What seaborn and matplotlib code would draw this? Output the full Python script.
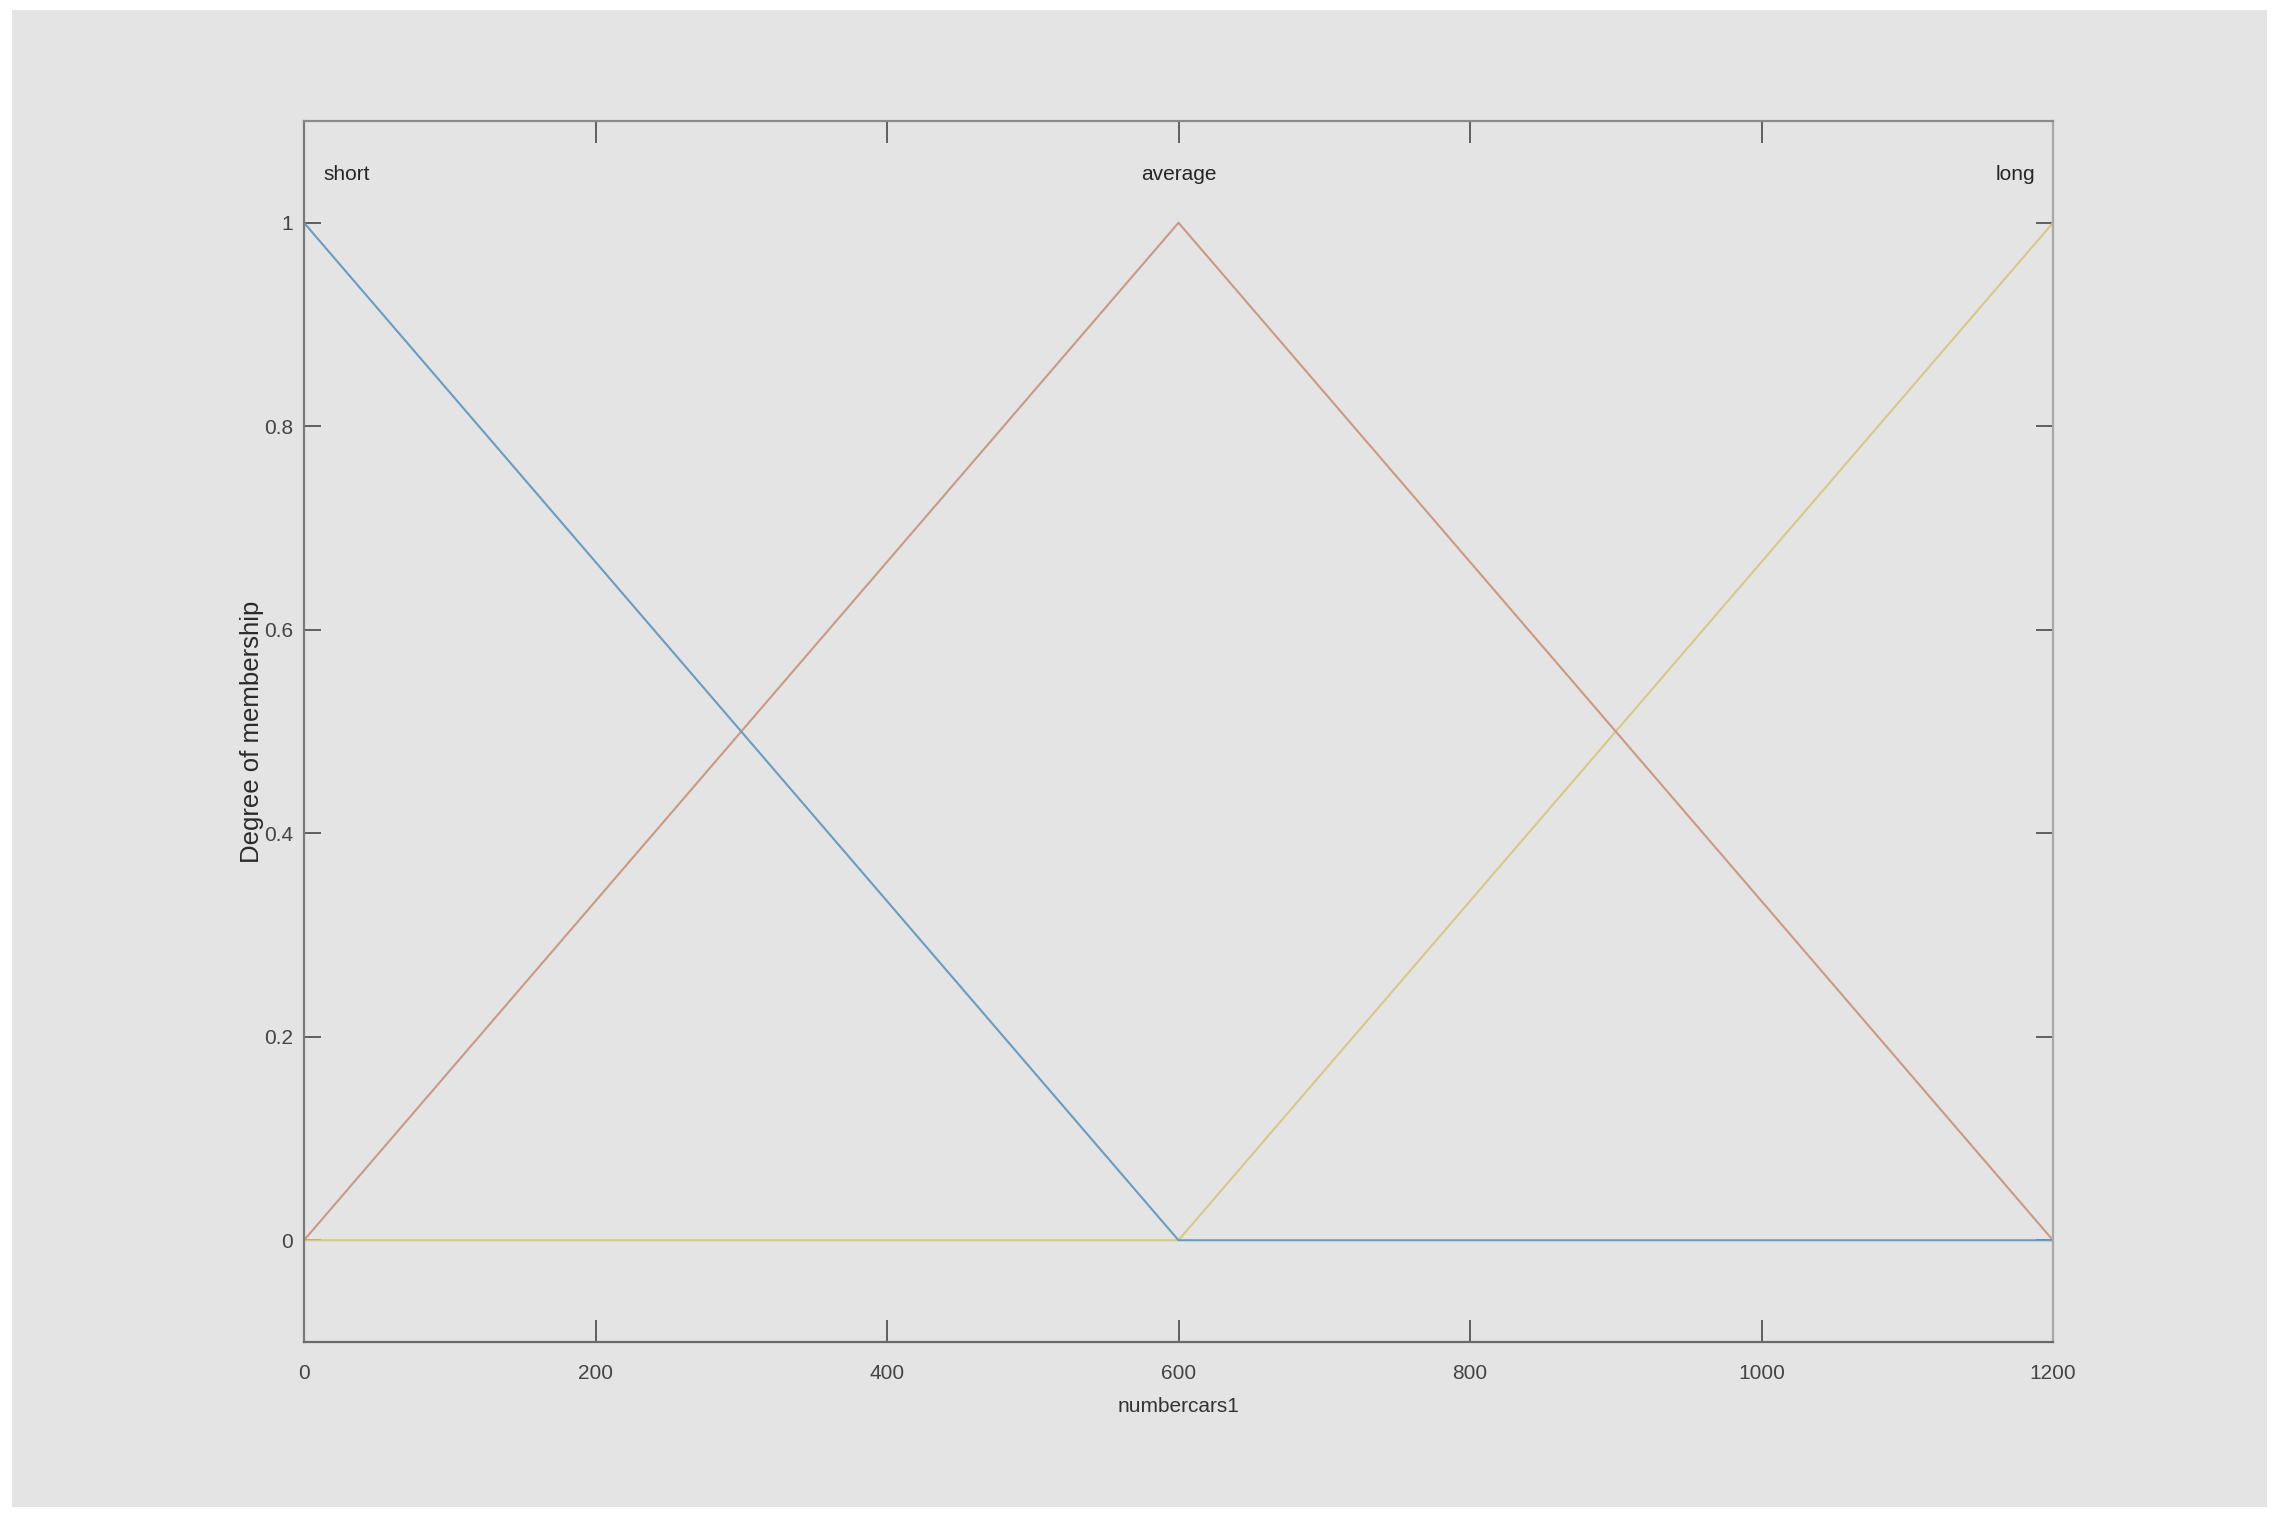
import pandas as pd
import matplotlib.pyplot as plt
import seaborn as sns
from matplotlib.patches import Rectangle

# membership functions sampled at their break points
x_points = [0, 600, 1200]
short_mf = [1, 0, 0]
average_mf = [0, 1, 0]
long_mf = [0, 0, 1]
mf_names = ["short", "average", "long"]
x_ticks = [0, 200, 400, 600, 800, 1000, 1200]
y_ticks = [0, 0.2, 0.4, 0.6, 0.8, 1]
y_tick_labels = ["0", "0.2", "0.4", "0.6", "0.8", "1"]

colors = {"short": "#6a9cbd", "average": "#c89a84", "long": "#d8c888"}


def build_df():
    rows = []
    for name, vals in zip(mf_names, [short_mf, average_mf, long_mf]):
        for x, y in zip(x_points, vals):
            rows.append({"x": x, "y": y, "mf": name})
    return pd.DataFrame(rows)


def main():
    sns.set_style("white")
    plt.rcParams['font.family'] = ['Liberation Sans', 'DejaVu Sans']

    df = build_df()

    fig = plt.figure(figsize=(22.8, 15.24), dpi=100, facecolor="white")
    # grey window area of the screenshot
    bg = Rectangle((12 / 2280, 17 / 1524), 2255 / 2280, 1497 / 1524,
                   transform=fig.transFigure, facecolor="#e4e4e4",
                   edgecolor="none", zorder=-10)
    fig.add_artist(bg)
    ax = fig.add_axes([304 / 2280, 1 - 1342 / 1524, 1749 / 2280, 1221 / 1524])
    ax.set_zorder(5)
    ax.set_facecolor("#e4e4e4")

    sns.lineplot(data=df, x="x", y="y", hue="mf", palette=colors,
                 hue_order=["long", "average", "short"], linewidth=1.5,
                 legend=False, ax=ax)

    ax.set_xlim(0, 1200)
    ax.set_ylim(-0.1, 1.1)
    ax.set_xticks(x_ticks)
    ax.set_yticks(y_ticks)
    ax.set_yticklabels(y_tick_labels)

    for side in ["left", "bottom", "top", "right"]:
        ax.spines[side].set_visible(True)
        ax.spines[side].set_linewidth(1.6)
    ax.spines["left"].set_color("#7a7a7a")
    ax.spines["bottom"].set_color("#6a6a6a")
    ax.spines["top"].set_color("#8a8a8a")
    ax.spines["right"].set_color("#a8a8a8")

    fs = 15
    ax.tick_params(axis="x", direction="in", length=16, width=1.3, color="#555555",
                   top=True, bottom=True, labelsize=fs, labelcolor="#444444", pad=16)
    ax.tick_params(axis="y", direction="in", length=12, width=1.3, color="#555555",
                   left=True, right=True, labelsize=fs, labelcolor="#444444", pad=8)

    ax.set_xlabel("numbercars1", fontsize=fs, color="#333333", labelpad=10)
    ax.set_ylabel("Degree of membership", fontsize=18.5, color="#2a2a2a", labelpad=0)

    # labels of each membership function above its peak
    ax.text(13, 1.047, "short", ha="left", va="center", fontsize=fs, color="#262626")
    ax.text(600, 1.047, "average", ha="center", va="center", fontsize=fs, color="#262626")
    ax.text(1188, 1.047, "long", ha="right", va="center", fontsize=fs, color="#262626")

    fig.savefig("out.png", dpi=100, facecolor="white")


if __name__ == '__main__':
    main()
